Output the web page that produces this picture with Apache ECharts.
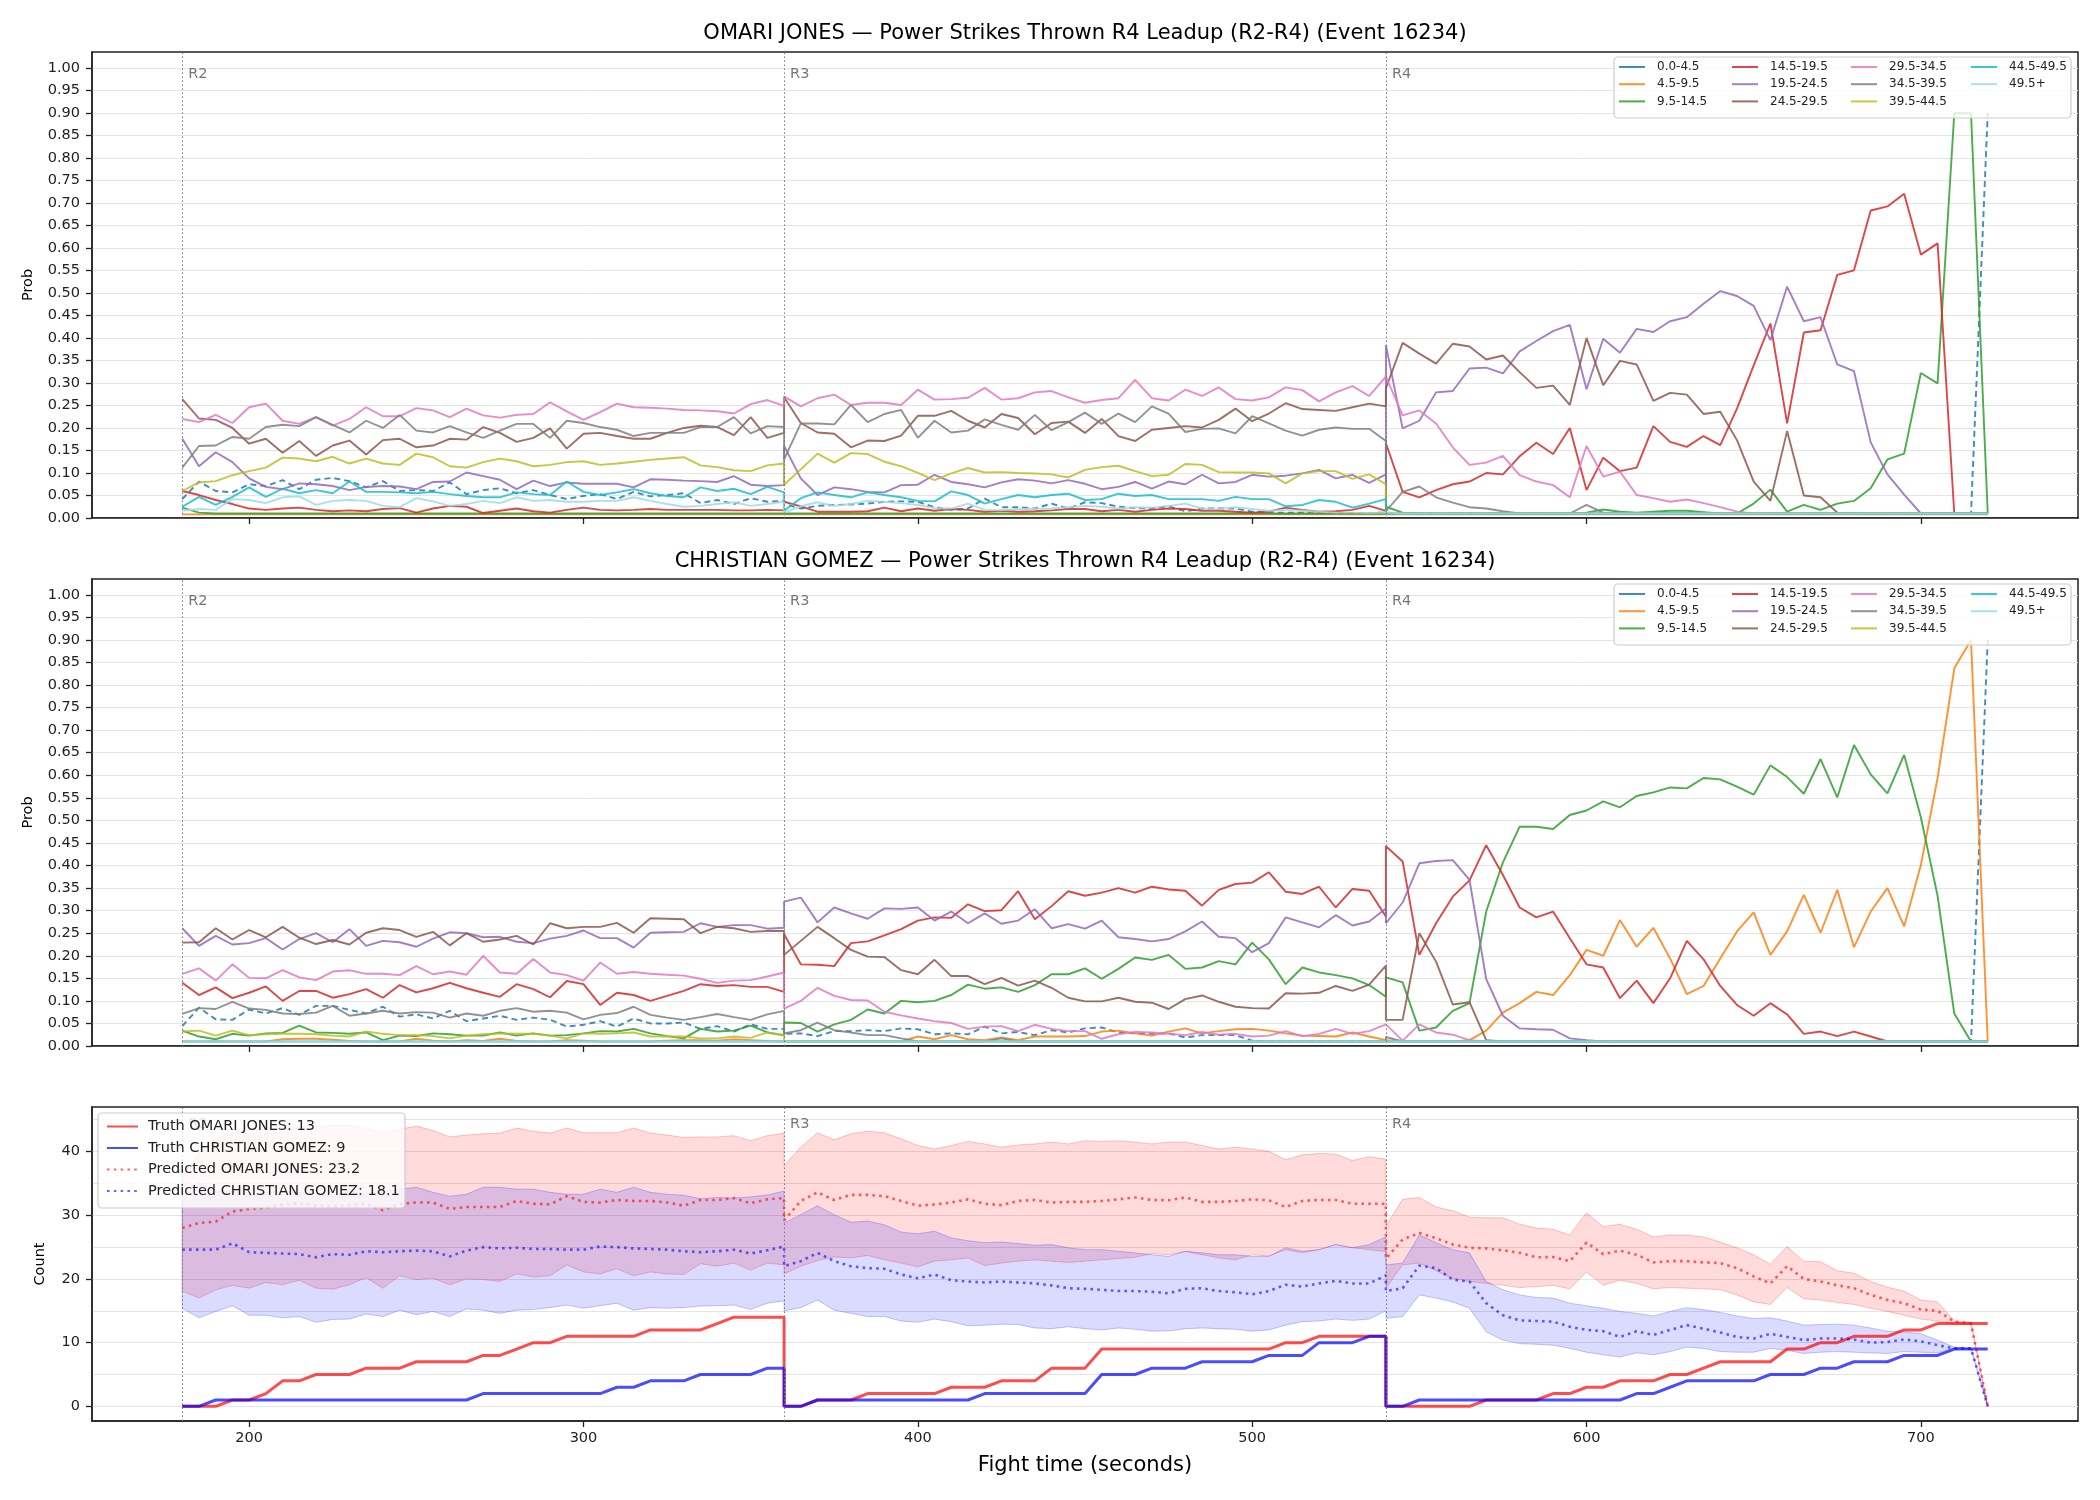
<!DOCTYPE html>
<html>
<head>
<meta charset="utf-8">
<script src="https://cdn.jsdelivr.net/npm/echarts@6/dist/echarts.min.js"></script>
<style>
  html, body { margin: 0; padding: 0; background: #fff; }
  #chart { width: 2100px; height: 1500px; }
</style>
</head>
<body>
<div id="chart"></div>
<script>
// ---- axes / categories ----
const ROUND_STARTS = [180, 360, 540];
const ROUND_LABELS = ['R2', 'R3', 'R4'];
const STEP = 5;
const PER_ROUND = 37;
const X_TICKS = [200, 300, 400, 500, 600, 700];
const PROB_TICKS = [0, 0.05, 0.1, 0.15, 0.2, 0.25, 0.3, 0.35, 0.4, 0.45, 0.5,
  0.55, 0.6, 0.65, 0.7, 0.75, 0.8, 0.85, 0.9, 0.95, 1.0];
const COUNT_TICKS = [0, 10, 20, 30, 40];
const BINS = ['0.0-4.5', '4.5-9.5', '9.5-14.5', '14.5-19.5', '19.5-24.5', '24.5-29.5',
  '29.5-34.5', '34.5-39.5', '39.5-44.5', '44.5-49.5', '49.5+'];
const BIN_COLORS = ['#1f77b4', '#ff7f0e', '#2ca02c', '#d62728', '#9467bd', '#8c564b',
  '#e377c2', '#7f7f7f', '#bcbd22', '#17becf', '#9edae5'];

// ---- OMARI JONES bin probabilities (R2 | R3 | R4, 5 s steps) ----
const omariP0 = [
  0.042,0.081,0.060,0.057,0.075,0.071,0.084,0.064,0.085,0.089,0.082,0.068,0.082,0.060,0.062,0.060,0.079,0.053,0.062,0.066,0.055,0.062,0.051,0.042,0.049,0.053,0.042,0.058,0.048,0.051,0.055,0.033,0.040,0.031,0.044,0.036,0.038,
  0.031,0.021,0.027,0.029,0.030,0.032,0.036,0.037,0.036,0.024,0.018,0.021,0.043,0.024,0.024,0.021,0.032,0.021,0.035,0.033,0.025,0.022,0.021,0.026,0.015,0.021,0.021,0.021,0.014,0.012,0.012,0.012,0.012,0.011,0.011,0.011,0.012,
  0.01,0.01,0.01,0.01,0.01,0.01,0.01,0.01,0.01,0.01,0.01,0.01,0.01,0.01,0.01,0.01,0.01,0.01,0.01,0.01,0.01,0.01,0.01,0.01,0.01,0.01,0.01,0.01,0.01,0.01,0.01,0.01,0.01,0.01,0.01,0.01,0.90];
const omariP1 = [
  0.008,0.008,0.008,0.008,0.008,0.008,0.008,0.008,0.008,0.008,0.008,0.008,0.008,0.008,0.008,0.008,0.008,0.008,0.008,0.008,0.008,0.008,0.008,0.008,0.008,0.008,0.008,0.008,0.008,0.008,0.008,0.008,0.008,0.008,0.008,0.008,0.008,
  0.008,0.008,0.008,0.008,0.008,0.008,0.008,0.008,0.008,0.008,0.008,0.008,0.008,0.008,0.008,0.008,0.008,0.008,0.008,0.008,0.008,0.008,0.008,0.008,0.008,0.008,0.008,0.008,0.008,0.008,0.008,0.008,0.008,0.008,0.008,0.008,0.008,
  0.008,0.008,0.008,0.008,0.008,0.008,0.008,0.008,0.008,0.008,0.008,0.008,0.008,0.008,0.008,0.008,0.008,0.008,0.008,0.008,0.008,0.008,0.008,0.008,0.008,0.008,0.008,0.008,0.008,0.008,0.008,0.008,0.008,0.008,0.008,0.008,0.008];
const omariP2 = [
  0.023,0.012,0.01,0.01,0.01,0.01,0.01,0.01,0.01,0.01,0.01,0.01,0.01,0.01,0.01,0.01,0.01,0.01,0.01,0.01,0.01,0.01,0.01,0.01,0.01,0.01,0.01,0.01,0.01,0.01,0.01,0.01,0.01,0.01,0.01,0.01,0.01,
  0.01,0.01,0.01,0.01,0.01,0.01,0.01,0.01,0.01,0.01,0.01,0.01,0.01,0.01,0.01,0.01,0.01,0.01,0.01,0.01,0.01,0.01,0.01,0.01,0.01,0.01,0.01,0.01,0.01,0.01,0.01,0.01,0.01,0.01,0.01,0.01,0.01,
  0.025,0.012,0.01,0.01,0.01,0.01,0.01,0.01,0.01,0.01,0.01,0.01,0.012,0.019,0.014,0.012,0.014,0.016,0.016,0.013,0.01,0.01,0.032,0.063,0.014,0.029,0.018,0.032,0.038,0.066,0.130,0.143,0.322,0.299,0.899,0.899,0.01];
const omariP3 = [
  0.060,0.051,0.040,0.031,0.021,0.018,0.021,0.023,0.018,0.015,0.017,0.015,0.020,0.022,0.012,0.021,0.027,0.025,0.011,0.016,0.021,0.015,0.012,0.018,0.023,0.018,0.017,0.018,0.020,0.018,0.018,0.018,0.018,0.017,0.017,0.018,0.017,
  0.036,0.026,0.014,0.014,0.014,0.015,0.023,0.015,0.021,0.016,0.020,0.018,0.014,0.016,0.014,0.015,0.017,0.020,0.020,0.015,0.018,0.014,0.018,0.021,0.020,0.016,0.016,0.014,0.012,0.014,0.023,0.018,0.014,0.015,0.018,0.027,0.016,
  0.166,0.058,0.046,0.062,0.075,0.081,0.100,0.097,0.137,0.167,0.142,0.200,0.062,0.134,0.104,0.112,0.204,0.169,0.158,0.182,0.162,0.243,0.339,0.432,0.210,0.412,0.417,0.540,0.550,0.683,0.692,0.720,0.585,0.610,0.01,0.01,0.01];
const omariP4 = [
  0.176,0.115,0.146,0.124,0.088,0.069,0.064,0.077,0.075,0.071,0.062,0.069,0.071,0.070,0.064,0.080,0.081,0.101,0.093,0.085,0.064,0.083,0.071,0.079,0.076,0.076,0.076,0.068,0.086,0.085,0.083,0.082,0.080,0.093,0.074,0.071,0.073,
  0.160,0.088,0.051,0.068,0.064,0.058,0.057,0.073,0.074,0.096,0.080,0.075,0.068,0.079,0.086,0.083,0.077,0.084,0.076,0.064,0.069,0.080,0.065,0.081,0.075,0.096,0.077,0.080,0.096,0.092,0.094,0.099,0.107,0.088,0.096,0.078,0.097,
  0.384,0.199,0.216,0.279,0.282,0.332,0.334,0.321,0.370,0.393,0.415,0.429,0.286,0.398,0.367,0.420,0.413,0.437,0.446,0.476,0.504,0.493,0.471,0.395,0.514,0.437,0.446,0.341,0.326,0.168,0.097,0.052,0.01,0.01,0.01,0.01,0.01];
const omariP5 = [
  0.264,0.221,0.218,0.200,0.165,0.176,0.145,0.171,0.138,0.161,0.172,0.141,0.173,0.176,0.157,0.161,0.176,0.174,0.202,0.189,0.169,0.178,0.199,0.154,0.187,0.189,0.182,0.176,0.176,0.189,0.200,0.205,0.202,0.184,0.224,0.178,0.189,
  0.268,0.211,0.190,0.187,0.157,0.172,0.171,0.183,0.227,0.227,0.238,0.216,0.201,0.231,0.222,0.186,0.211,0.214,0.189,0.220,0.182,0.171,0.196,0.200,0.204,0.201,0.218,0.243,0.215,0.232,0.255,0.242,0.240,0.238,0.246,0.254,0.248,
  0.288,0.389,0.365,0.343,0.387,0.381,0.352,0.361,0.324,0.289,0.294,0.251,0.400,0.295,0.349,0.341,0.260,0.278,0.274,0.231,0.236,0.173,0.081,0.038,0.193,0.050,0.046,0.012,0.01,0.01,0.01,0.01,0.01,0.01,0.01,0.01,0.01];
const omariP6 = [
  0.220,0.213,0.229,0.211,0.246,0.254,0.216,0.209,0.224,0.205,0.220,0.246,0.226,0.226,0.244,0.239,0.224,0.243,0.228,0.223,0.229,0.231,0.257,0.237,0.218,0.235,0.254,0.246,0.245,0.243,0.240,0.239,0.237,0.232,0.253,0.262,0.249,
  0.270,0.248,0.266,0.274,0.251,0.256,0.256,0.251,0.285,0.263,0.264,0.267,0.289,0.263,0.266,0.279,0.282,0.268,0.256,0.262,0.266,0.307,0.266,0.261,0.285,0.271,0.290,0.264,0.261,0.268,0.290,0.284,0.259,0.279,0.293,0.271,0.314,
  0.315,0.228,0.239,0.210,0.157,0.118,0.123,0.138,0.095,0.081,0.073,0.046,0.160,0.092,0.103,0.051,0.044,0.036,0.041,0.033,0.024,0.014,0.01,0.01,0.01,0.01,0.01,0.01,0.01,0.01,0.01,0.01,0.01,0.01,0.01,0.01,0.01];
const omariP7 = [
  0.112,0.160,0.161,0.180,0.176,0.202,0.207,0.204,0.224,0.207,0.190,0.216,0.200,0.229,0.194,0.190,0.204,0.190,0.178,0.194,0.209,0.209,0.178,0.216,0.211,0.202,0.196,0.182,0.189,0.189,0.189,0.202,0.202,0.224,0.188,0.204,0.202,
  0.130,0.210,0.210,0.208,0.251,0.213,0.231,0.240,0.178,0.216,0.190,0.194,0.219,0.207,0.196,0.229,0.195,0.213,0.234,0.209,0.232,0.213,0.248,0.232,0.191,0.198,0.199,0.188,0.226,0.210,0.194,0.183,0.196,0.201,0.198,0.198,0.171,
  0.015,0.058,0.070,0.046,0.034,0.024,0.021,0.015,0.01,0.01,0.01,0.01,0.029,0.012,0.01,0.01,0.01,0.01,0.01,0.01,0.01,0.01,0.01,0.01,0.01,0.01,0.01,0.01,0.01,0.01,0.01,0.01,0.01,0.01,0.01,0.01,0.01];
const omariP8 = [
  0.060,0.079,0.082,0.095,0.104,0.112,0.134,0.132,0.126,0.136,0.121,0.132,0.121,0.118,0.143,0.135,0.115,0.112,0.124,0.132,0.126,0.115,0.118,0.124,0.126,0.118,0.121,0.125,0.129,0.132,0.135,0.117,0.113,0.106,0.104,0.117,0.121,
  0.074,0.108,0.143,0.123,0.144,0.142,0.125,0.115,0.100,0.084,0.099,0.111,0.101,0.102,0.100,0.099,0.097,0.090,0.107,0.113,0.116,0.104,0.093,0.096,0.120,0.118,0.102,0.101,0.101,0.099,0.077,0.099,0.104,0.104,0.087,0.097,0.075,
  0.01,0.01,0.01,0.01,0.01,0.01,0.01,0.01,0.01,0.01,0.01,0.01,0.01,0.01,0.01,0.01,0.01,0.01,0.01,0.01,0.01,0.01,0.01,0.01,0.01,0.01,0.01,0.01,0.01,0.01,0.01,0.01,0.01,0.01,0.01,0.01,0.01];
const omariP9 = [
  0.025,0.047,0.029,0.047,0.068,0.047,0.065,0.055,0.062,0.055,0.081,0.058,0.058,0.057,0.055,0.058,0.053,0.049,0.046,0.046,0.057,0.053,0.051,0.081,0.058,0.051,0.057,0.064,0.055,0.049,0.046,0.068,0.060,0.065,0.053,0.069,0.057,
  0.016,0.044,0.057,0.051,0.046,0.057,0.051,0.046,0.038,0.037,0.059,0.051,0.032,0.042,0.051,0.046,0.051,0.054,0.040,0.042,0.054,0.049,0.051,0.042,0.042,0.042,0.038,0.047,0.042,0.042,0.026,0.029,0.040,0.036,0.023,0.032,0.042,
  0.01,0.01,0.01,0.01,0.01,0.01,0.01,0.01,0.01,0.01,0.01,0.01,0.01,0.01,0.01,0.01,0.01,0.01,0.01,0.01,0.01,0.01,0.01,0.01,0.01,0.01,0.01,0.01,0.01,0.01,0.01,0.01,0.01,0.01,0.01,0.01,0.01];
const omariP10 = [
  0.016,0.020,0.018,0.042,0.040,0.033,0.046,0.048,0.029,0.038,0.040,0.038,0.027,0.024,0.044,0.037,0.027,0.031,0.038,0.033,0.046,0.038,0.040,0.036,0.036,0.038,0.038,0.046,0.038,0.031,0.025,0.027,0.031,0.035,0.027,0.031,0.036,
  0.012,0.026,0.035,0.027,0.031,0.038,0.036,0.033,0.029,0.022,0.021,0.032,0.018,0.017,0.020,0.020,0.021,0.024,0.027,0.025,0.021,0.024,0.023,0.027,0.032,0.021,0.020,0.024,0.020,0.016,0.018,0.016,0.014,0.012,0.012,0.011,0.012,
  0.01,0.01,0.01,0.01,0.01,0.01,0.01,0.01,0.01,0.01,0.01,0.01,0.01,0.01,0.01,0.01,0.01,0.01,0.01,0.01,0.01,0.01,0.01,0.01,0.01,0.01,0.01,0.01,0.01,0.01,0.01,0.01,0.01,0.01,0.01,0.01,0.01];

// ---- CHRISTIAN GOMEZ bin probabilities ----
const gomezP0 = [
  0.044,0.085,0.059,0.058,0.081,0.072,0.084,0.069,0.089,0.089,0.080,0.072,0.087,0.065,0.070,0.061,0.078,0.055,0.061,0.067,0.058,0.063,0.058,0.043,0.047,0.055,0.043,0.061,0.050,0.050,0.052,0.038,0.044,0.032,0.048,0.038,0.038,
  0.027,0.028,0.022,0.033,0.033,0.035,0.033,0.039,0.037,0.026,0.028,0.026,0.043,0.028,0.031,0.024,0.035,0.030,0.039,0.041,0.030,0.028,0.027,0.028,0.019,0.024,0.024,0.024,0.012,0.010,0.01,0.01,0.01,0.01,0.01,0.01,0.01,
  0.01,0.01,0.01,0.01,0.01,0.01,0.01,0.01,0.01,0.01,0.01,0.01,0.01,0.01,0.01,0.01,0.01,0.01,0.01,0.01,0.01,0.01,0.01,0.01,0.01,0.01,0.01,0.01,0.01,0.01,0.01,0.01,0.01,0.01,0.01,0.01,0.90];
const gomezP1 = [
  0.01,0.01,0.01,0.01,0.01,0.01,0.015,0.016,0.016,0.014,0.011,0.01,0.01,0.01,0.016,0.012,0.01,0.013,0.011,0.016,0.011,0.01,0.01,0.013,0.012,0.01,0.01,0.01,0.01,0.012,0.013,0.013,0.012,0.015,0.013,0.011,0.01,
  0.01,0.01,0.01,0.01,0.01,0.01,0.01,0.01,0.021,0.015,0.024,0.015,0.013,0.019,0.013,0.021,0.021,0.021,0.022,0.032,0.034,0.028,0.023,0.032,0.039,0.028,0.033,0.037,0.038,0.034,0.028,0.023,0.022,0.021,0.030,0.021,0.013,
  0.013,0.01,0.01,0.01,0.01,0.013,0.034,0.074,0.095,0.120,0.113,0.157,0.213,0.200,0.279,0.220,0.262,0.194,0.115,0.133,0.194,0.254,0.296,0.202,0.254,0.335,0.251,0.346,0.219,0.298,0.350,0.265,0.401,0.594,0.837,0.900,0.01];
const gomezP2 = [
  0.034,0.021,0.015,0.027,0.023,0.028,0.029,0.045,0.030,0.029,0.027,0.030,0.013,0.023,0.022,0.028,0.026,0.023,0.023,0.030,0.023,0.028,0.023,0.024,0.028,0.033,0.032,0.038,0.028,0.022,0.017,0.038,0.032,0.034,0.045,0.030,0.024,
  0.052,0.051,0.032,0.048,0.058,0.081,0.072,0.100,0.097,0.100,0.113,0.136,0.127,0.130,0.120,0.135,0.159,0.159,0.172,0.149,0.171,0.196,0.191,0.202,0.171,0.174,0.188,0.181,0.229,0.192,0.137,0.174,0.163,0.157,0.150,0.135,0.109,
  0.152,0.141,0.034,0.041,0.078,0.095,0.298,0.407,0.486,0.486,0.481,0.512,0.522,0.542,0.529,0.554,0.562,0.573,0.571,0.594,0.591,0.575,0.557,0.622,0.596,0.559,0.636,0.551,0.667,0.602,0.560,0.645,0.507,0.333,0.072,0.01,0.01];
const gomezP3 = [
  0.140,0.113,0.130,0.106,0.118,0.132,0.100,0.122,0.122,0.107,0.115,0.126,0.107,0.135,0.119,0.128,0.140,0.128,0.118,0.109,0.137,0.126,0.108,0.144,0.137,0.091,0.118,0.113,0.100,0.111,0.122,0.137,0.133,0.135,0.131,0.131,0.120,
  0.248,0.181,0.180,0.177,0.228,0.232,0.245,0.259,0.278,0.285,0.284,0.314,0.299,0.301,0.343,0.281,0.310,0.343,0.333,0.340,0.350,0.340,0.353,0.347,0.344,0.311,0.346,0.359,0.362,0.385,0.342,0.337,0.353,0.307,0.348,0.344,0.287,
  0.443,0.409,0.202,0.272,0.331,0.367,0.445,0.379,0.307,0.285,0.298,0.239,0.181,0.174,0.106,0.145,0.095,0.150,0.233,0.192,0.133,0.091,0.067,0.095,0.070,0.027,0.032,0.022,0.032,0.021,0.01,0.01,0.01,0.01,0.01,0.01,0.01];
const gomezP4 = [
  0.261,0.222,0.244,0.225,0.228,0.239,0.214,0.237,0.250,0.230,0.259,0.222,0.233,0.230,0.220,0.238,0.252,0.250,0.241,0.242,0.231,0.228,0.238,0.244,0.256,0.239,0.239,0.218,0.251,0.252,0.253,0.272,0.264,0.268,0.268,0.260,0.262,
  0.320,0.329,0.274,0.307,0.294,0.282,0.305,0.304,0.307,0.278,0.298,0.272,0.294,0.271,0.278,0.303,0.261,0.270,0.260,0.278,0.241,0.237,0.232,0.237,0.254,0.276,0.242,0.239,0.208,0.228,0.285,0.274,0.263,0.290,0.267,0.276,0.305,
  0.272,0.318,0.405,0.410,0.412,0.368,0.148,0.067,0.039,0.037,0.036,0.017,0.013,0.01,0.01,0.01,0.01,0.01,0.01,0.01,0.01,0.01,0.01,0.01,0.01,0.01,0.01,0.01,0.01,0.01,0.01,0.01,0.01,0.01,0.01,0.01,0.01];
const gomezP5 = [
  0.229,0.230,0.261,0.236,0.257,0.241,0.264,0.240,0.226,0.235,0.225,0.251,0.261,0.257,0.242,0.253,0.223,0.250,0.231,0.236,0.244,0.225,0.272,0.261,0.264,0.264,0.273,0.251,0.283,0.282,0.281,0.250,0.264,0.261,0.253,0.255,0.255,
  0.202,0.233,0.264,0.239,0.213,0.198,0.197,0.168,0.159,0.191,0.155,0.155,0.137,0.151,0.134,0.145,0.129,0.107,0.099,0.099,0.107,0.098,0.096,0.082,0.104,0.112,0.098,0.087,0.084,0.083,0.117,0.116,0.118,0.133,0.122,0.136,0.178,
  0.058,0.058,0.250,0.187,0.092,0.097,0.013,0.01,0.01,0.01,0.01,0.01,0.01,0.01,0.01,0.01,0.01,0.01,0.01,0.01,0.01,0.01,0.01,0.01,0.01,0.01,0.01,0.01,0.01,0.01,0.01,0.01,0.01,0.01,0.01,0.01,0.01];
const gomezP6 = [
  0.160,0.172,0.145,0.181,0.151,0.150,0.168,0.152,0.146,0.165,0.168,0.160,0.160,0.157,0.177,0.159,0.165,0.158,0.200,0.163,0.160,0.193,0.163,0.157,0.145,0.185,0.160,0.164,0.160,0.158,0.156,0.149,0.140,0.145,0.146,0.154,0.163,
  0.083,0.100,0.129,0.111,0.102,0.101,0.076,0.068,0.061,0.055,0.051,0.038,0.043,0.044,0.033,0.047,0.038,0.033,0.033,0.016,0.026,0.031,0.030,0.027,0.024,0.031,0.025,0.027,0.021,0.023,0.033,0.022,0.027,0.038,0.027,0.033,0.048,
  0.048,0.012,0.048,0.030,0.025,0.013,0.01,0.01,0.01,0.01,0.01,0.01,0.01,0.01,0.01,0.01,0.01,0.01,0.01,0.01,0.01,0.01,0.01,0.01,0.01,0.01,0.01,0.01,0.01,0.01,0.01,0.01,0.01,0.01,0.01,0.01,0.01];
const gomezP7 = [
  0.071,0.084,0.082,0.098,0.083,0.080,0.072,0.071,0.074,0.089,0.067,0.072,0.078,0.072,0.075,0.074,0.063,0.072,0.067,0.078,0.084,0.076,0.078,0.074,0.059,0.069,0.073,0.087,0.069,0.063,0.058,0.064,0.071,0.064,0.058,0.070,0.078,
  0.028,0.035,0.052,0.035,0.030,0.024,0.024,0.017,0.01,0.01,0.01,0.01,0.01,0.017,0.01,0.01,0.01,0.01,0.01,0.01,0.01,0.01,0.01,0.01,0.01,0.01,0.01,0.01,0.01,0.01,0.01,0.01,0.01,0.01,0.01,0.01,0.01,
  0.02,0.01,0.01,0.01,0.01,0.01,0.01,0.01,0.01,0.01,0.01,0.01,0.01,0.01,0.01,0.01,0.01,0.01,0.01,0.01,0.01,0.01,0.01,0.01,0.01,0.01,0.01,0.01,0.01,0.01,0.01,0.01,0.01,0.01,0.01,0.01,0.01];
const gomezP8 = [
  0.032,0.034,0.023,0.034,0.024,0.026,0.027,0.027,0.026,0.023,0.021,0.032,0.027,0.024,0.024,0.022,0.017,0.023,0.026,0.028,0.027,0.027,0.023,0.017,0.028,0.027,0.028,0.030,0.021,0.021,0.021,0.017,0.017,0.021,0.018,0.030,0.023,
  0.01,0.01,0.01,0.01,0.01,0.01,0.01,0.01,0.01,0.01,0.01,0.01,0.01,0.01,0.01,0.01,0.01,0.01,0.01,0.01,0.01,0.01,0.01,0.01,0.01,0.01,0.01,0.01,0.01,0.01,0.01,0.01,0.01,0.01,0.01,0.01,0.01,
  0.01,0.01,0.01,0.01,0.01,0.01,0.01,0.01,0.01,0.01,0.01,0.01,0.01,0.01,0.01,0.01,0.01,0.01,0.01,0.01,0.01,0.01,0.01,0.01,0.01,0.01,0.01,0.01,0.01,0.01,0.01,0.01,0.01,0.01,0.01,0.01,0.01];
const gomezP9 = [
  0.01,0.01,0.01,0.01,0.01,0.01,0.01,0.01,0.01,0.01,0.01,0.01,0.01,0.01,0.01,0.01,0.01,0.01,0.01,0.01,0.01,0.01,0.01,0.01,0.01,0.01,0.01,0.01,0.01,0.01,0.01,0.01,0.01,0.01,0.01,0.01,0.01,
  0.01,0.01,0.01,0.01,0.01,0.01,0.01,0.01,0.01,0.01,0.01,0.01,0.01,0.01,0.01,0.01,0.01,0.01,0.01,0.01,0.01,0.01,0.01,0.01,0.01,0.01,0.01,0.01,0.01,0.01,0.01,0.01,0.01,0.01,0.01,0.01,0.01,
  0.01,0.01,0.01,0.01,0.01,0.01,0.01,0.01,0.01,0.01,0.01,0.01,0.01,0.01,0.01,0.01,0.01,0.01,0.01,0.01,0.01,0.01,0.01,0.01,0.01,0.01,0.01,0.01,0.01,0.01,0.01,0.01,0.01,0.01,0.01,0.01,0.01];
const gomezP10 = [
  0.01,0.01,0.01,0.01,0.01,0.01,0.01,0.01,0.01,0.01,0.01,0.01,0.01,0.01,0.01,0.01,0.01,0.01,0.01,0.01,0.01,0.01,0.01,0.01,0.01,0.01,0.01,0.01,0.01,0.01,0.01,0.01,0.01,0.01,0.01,0.01,0.01,
  0.01,0.01,0.01,0.01,0.01,0.01,0.01,0.01,0.01,0.01,0.01,0.01,0.01,0.01,0.01,0.01,0.01,0.01,0.01,0.01,0.01,0.01,0.01,0.01,0.01,0.01,0.01,0.01,0.01,0.01,0.01,0.01,0.01,0.01,0.01,0.01,0.01,
  0.01,0.01,0.01,0.01,0.01,0.01,0.01,0.01,0.01,0.01,0.01,0.01,0.01,0.01,0.01,0.01,0.01,0.01,0.01,0.01,0.01,0.01,0.01,0.01,0.01,0.01,0.01,0.01,0.01,0.01,0.01,0.01,0.01,0.01,0.01,0.01,0.01];

// ---- counts panel ----
const truthOmari = [
  0,0,0,1,1,2,4,4,5,5,5,6,6,6,7,7,7,7,8,8,9,10,10,11,11,11,11,11,12,12,12,12,13,14,14,14,14,
  0,0,1,1,1,2,2,2,2,2,3,3,3,4,4,4,6,6,6,9,9,9,9,9,9,9,9,9,9,9,10,10,11,11,11,11,11,
  0,0,0,0,0,0,1,1,1,1,2,2,3,3,4,4,4,5,5,6,7,7,7,7,9,9,10,10,11,11,11,12,12,13,13,13,13];
const truthGomez = [
  0,0,1,1,1,1,1,1,1,1,1,1,1,1,1,1,1,1,2,2,2,2,2,2,2,2,3,3,4,4,4,5,5,5,5,6,6,
  0,0,1,1,1,1,1,1,1,1,1,1,2,2,2,2,2,2,2,5,5,5,6,6,6,7,7,7,7,8,8,8,10,10,10,11,11,
  0,0,1,1,1,1,1,1,1,1,1,1,1,1,1,2,2,3,4,4,4,4,4,5,5,5,6,6,7,7,7,8,8,8,9,9,9];
const predOmari = [
  28.0,28.8,29.0,30.6,31.0,31.2,31.7,31.9,31.5,31.4,31.6,31.8,30.8,31.8,32.0,32.0,31.0,31.3,31.3,31.3,32.25,31.8,31.7,33.0,32.1,32.0,32.4,32.25,32.25,32.0,31.5,32.4,32.4,32.7,31.9,32.5,32.7,
  29.2,32.25,33.6,32.4,33.2,33.2,33.0,32.25,31.5,31.7,32.0,32.5,31.8,31.6,32.25,32.4,32.0,32.1,32.1,32.25,32.5,32.8,32.4,32.35,32.8,32.1,32.1,32.25,32.5,32.35,31.3,32.25,32.4,32.4,31.8,31.8,31.8,
  23.2,26.2,27.2,26.4,25.4,24.9,24.8,24.5,24.1,23.4,23.45,22.8,25.7,23.9,24.45,23.8,22.6,22.8,22.8,22.6,22.5,21.7,20.4,19.3,22.0,20.0,19.6,19.0,18.55,17.5,16.7,16.2,15.2,15.0,13.3,13.0,0];
const predGomez = [
  24.6,24.6,24.6,25.6,24.2,24.1,24.0,23.9,23.4,23.9,23.8,24.35,24.2,24.35,24.45,24.35,23.55,24.45,25.0,24.8,24.9,24.7,24.7,24.6,24.6,25.1,25.0,24.8,24.7,24.6,24.35,24.2,24.35,24.6,24.0,24.5,25.1,
  22.0,22.8,24.1,22.8,22.0,21.7,21.6,20.7,20.1,20.7,19.8,19.6,19.45,19.6,19.45,19.3,19.0,18.55,18.45,18.3,18.1,18.1,18.0,17.75,18.45,18.55,18.1,17.9,17.6,18.1,19.1,18.8,19.3,19.7,19.3,19.3,20.55,
  18.1,18.55,22.1,21.7,19.9,19.6,16.2,14.3,13.5,13.4,13.3,12.5,12.0,11.8,10.9,11.8,11.2,12.0,12.75,12.2,11.6,10.9,10.65,11.4,10.9,10.4,10.65,10.65,10.5,10.0,10.1,10.5,10.2,9.6,9.1,9.1,0];
const bandOmariHi = [
  36,40,42,43,43.5,43.5,43.8,43.85,43.9,44.1,44.1,43.7,42.95,43.5,44.0,43.3,42.3,42.6,42.8,42.9,43.7,43.2,42.9,43.7,42.95,42.95,42.95,43.7,42.9,42.6,42.2,42.3,42.3,42.5,41.7,42.5,42.9,
  37.8,40.7,42.95,41.85,42.8,43.2,42.95,42.0,40.95,40.4,40.95,41.6,41.2,40.7,41.05,41.2,41.5,41.2,41.7,41.6,41.7,41.5,41.2,41.5,41.5,40.95,40.4,40.7,40.4,40.05,38.7,39.5,39.7,39.6,38.6,39.2,38.8,
  28.3,32.5,32.8,31.3,30.7,29.7,29.6,29.6,28.6,28.0,27.8,26.9,30.4,28.2,28.6,27.8,26.6,26.9,26.9,26.6,25.8,24.9,23.8,22.3,25.1,22.8,22.7,21.3,20.9,19.6,18.7,18.1,16.7,16.4,13.4,13.2,0];
const bandOmariLo = [
  18.1,17.0,18.3,19.0,18.55,19.45,19.1,19.8,18.55,18.4,19.1,20.2,18.55,20.5,19.9,20.1,19.1,20.0,19.9,19.6,20.8,20.3,20.5,22.2,21.1,20.8,21.6,20.5,21.1,20.8,20.7,22.4,22.0,22.5,21.4,22.5,22.2,
  20.8,22.0,22.9,23.45,23.3,23.7,23.0,22.5,21.9,22.8,23.0,23.3,22.1,22.5,22.8,23.0,22.8,22.6,22.8,23.0,23.2,23.4,24.0,23.8,24.3,23.8,23.3,23.0,23.8,23.6,24.6,24.1,24.6,25.4,24.9,24.6,24.3,
  18.55,22.2,22.5,21.3,20.1,19.6,19.3,19.0,18.65,18.8,19.0,18.45,21.1,19.0,19.8,19.3,18.45,18.65,18.55,18.45,18.3,17.5,16.4,16.0,18.65,16.9,16.7,16.3,16.0,15.4,14.9,14.3,13.7,13.4,12.9,12.9,0];
const bandGomezHi = [
  32.25,35.15,33.8,33.8,33.0,33.6,33.8,33.6,33.3,33.0,33.8,33.4,33.8,34.1,34.4,33.6,33.0,33.3,34.4,34.4,34.1,34.1,33.6,33.3,33.3,34.1,33.6,34.4,33.6,33.3,33.15,32.6,32.8,32.7,32.9,33.2,33.8,
  28.8,30.1,31.5,30.1,28.9,29.1,28.5,27.35,27.1,27.5,26.45,26.0,25.7,25.8,25.55,25.3,25.4,24.9,24.6,24.6,24.35,24.1,23.8,23.55,24.35,24.1,23.8,23.8,23.55,23.55,24.9,24.35,24.6,25.4,24.9,25.4,26.6,
  22.2,22.5,26.9,25.7,24.6,24.1,19.6,18.3,17.5,17.1,17.0,16.2,15.8,15.4,14.9,14.6,14.2,14.9,15.5,15.2,14.75,14.2,13.8,13.9,13.4,12.75,12.85,12.9,12.75,12.3,11.8,11.7,11.4,10.4,9.3,9.1,0];
const bandGomezLo = [
  15.4,13.9,14.9,15.8,14.3,14.3,13.9,14.1,13.2,13.65,13.7,14.5,14.1,15.1,14.4,14.9,14.1,15.3,15.1,14.6,15.1,15.2,15.5,15.9,15.4,15.8,16.2,15.1,15.5,15.4,15.5,15.75,15.8,15.9,15.2,16.2,16.55,
  15.0,15.5,16.7,15.1,14.6,14.1,14.1,13.4,13.2,13.7,13.3,12.65,12.75,12.9,12.85,12.3,12.2,12.5,12.2,12.0,12.3,12.1,11.8,11.85,12.2,12.3,12.2,12.1,11.8,12.0,12.75,13.3,13.4,13.7,13.5,13.7,15.0,
  13.8,14.1,17.5,17.0,16.4,15.4,11.7,10.4,9.85,9.75,9.6,9.1,8.5,8.1,7.75,8.4,8.1,8.6,9.3,9.1,8.6,8.5,8.5,9.1,8.8,8.3,8.5,8.6,8.5,8.4,8.3,8.6,8.5,8.4,9.1,9.1,0];

const OMARI = [omariP0, omariP1, omariP2, omariP3, omariP4, omariP5, omariP6, omariP7, omariP8, omariP9, omariP10];
const GOMEZ = [gomezP0, gomezP1, gomezP2, gomezP3, gomezP4, gomezP5, gomezP6, gomezP7, gomezP8, gomezP9, gomezP10];

// time stamps: each round sampled every 5 s, boundaries repeated
const times = [];
ROUND_STARTS.forEach(s => { for (let k = 0; k < PER_ROUND; k++) times.push(s + k * STEP); });

const allArrays = [...OMARI, ...GOMEZ, truthOmari, truthGomez, predOmari, predGomez,
  bandOmariHi, bandOmariLo, bandGomezHi, bandGomezLo];
allArrays.forEach((a, i) => { if (a.length !== times.length) throw new Error('array ' + i + ' has ' + a.length); });

const FONT = 'DejaVu Sans';
const INK = '#222';
const pts = vals => vals.map((v, i) => [times[i], v]);

const GRIDS = [
  { left: 92, top: 52, width: 1986, height: 466 },
  { left: 92, top: 579, width: 1986, height: 467 },
  { left: 92, top: 1107, width: 1986, height: 314 }
];

function xAxisFor(g) {
  return {
    gridIndex: g, type: 'value', min: 153, max: 747,
    axisLine: { show: true, onZero: false, lineStyle: { color: INK, width: 1.5 } },
    axisTick: { show: true, length: 6, customValues: X_TICKS, lineStyle: { color: INK, width: 1.3 } },
    axisLabel: { show: g === 2, customValues: X_TICKS, fontSize: 14.5, color: INK, fontFamily: FONT, margin: 10 },
    splitLine: { show: false },
    name: g === 2 ? 'Fight time (seconds)' : '', nameLocation: 'middle', nameGap: 34,
    nameTextStyle: { fontSize: 21, color: '#000', fontFamily: FONT }
  };
}

function probAxis(g) {
  return {
    gridIndex: g, type: 'value', min: 0, max: 1.035, interval: 0.05,
    name: 'Prob', nameLocation: 'middle', nameGap: 56,
    nameTextStyle: { fontSize: 14.5, color: '#000', fontFamily: FONT },
    axisLine: { show: true, lineStyle: { color: INK, width: 1.5 } },
    axisTick: { show: true, length: 6, customValues: PROB_TICKS, lineStyle: { color: INK, width: 1.3 } },
    axisLabel: { customValues: PROB_TICKS, formatter: v => v.toFixed(2), fontSize: 14.5, color: INK, fontFamily: FONT, margin: 12 },
    splitLine: { show: true, lineStyle: { color: '#e4e4e4', width: 1 } }
  };
}

function roundMarks(g, yPos) {
  return {
    type: 'scatter', xAxisIndex: g, yAxisIndex: g, silent: true, z: 3,
    symbolSize: 0, itemStyle: { color: 'rgba(0,0,0,0)' },
    data: ROUND_STARTS.map((x, i) => ({ value: [x, yPos], name: ROUND_LABELS[i] })),
    label: { show: true, position: 'right', distance: 6, formatter: p => p.name, color: '#555', fontSize: 14.5, fontFamily: FONT },
    markLine: {
      silent: true, symbol: ['none', 'none'], label: { show: false },
      lineStyle: { color: '#777', type: [1.5, 2.5], width: 1 },
      data: ROUND_STARTS.map(x => ({ xAxis: x }))
    }
  };
}

const series = [];
[OMARI, GOMEZ].forEach((fighter, g) => {
  fighter.forEach((vals, k) => {
    series.push({
      name: BINS[k], type: 'line', xAxisIndex: g, yAxisIndex: g, data: pts(vals),
      symbol: 'none', showSymbol: false, silent: true, z: 2,
      itemStyle: { color: BIN_COLORS[k] },
      lineStyle: { color: BIN_COLORS[k], width: 1.9, opacity: 0.85, type: k === 0 ? [6, 4] : 'solid' }
    });
  });
  series.push(roundMarks(g, 0.985));
});

// uncertainty band: one polygon between lower and upper edges, mapped with the axis scales
function band(lo, hi, rgb) {
  return {
    type: 'custom', xAxisIndex: 2, yAxisIndex: 2, silent: true, z: 1, clip: true,
    data: [[times[0], lo[0]]],
    renderItem: (params, api) => {
      const upper = hi.map((v, i) => api.coord([times[i], v]));
      const lower = lo.map((v, i) => api.coord([times[i], v])).reverse();
      return {
        type: 'polygon',
        shape: { points: upper.concat(lower) },
        style: { fill: `rgba(${rgb},0.14)`, stroke: `rgba(${rgb},0.22)`, lineWidth: 1 }
      };
    }
  };
}
series.push(band(bandOmariLo, bandOmariHi, '255,0,0'));
series.push(band(bandGomezLo, bandGomezHi, '0,0,255'));

const LEGEND_NAMES = ['Truth OMARI JONES: 13', 'Truth CHRISTIAN GOMEZ: 9', 'Predicted OMARI JONES: 23.2', 'Predicted CHRISTIAN GOMEZ: 18.1'];
series.push(
  { name: LEGEND_NAMES[0], type: 'line', xAxisIndex: 2, yAxisIndex: 2, data: pts(truthOmari), symbol: 'none', silent: true, z: 2,
    itemStyle: { color: 'rgba(255,0,0,0.7)' }, lineStyle: { color: 'rgba(255,0,0,0.7)', width: 3 } },
  { name: LEGEND_NAMES[1], type: 'line', xAxisIndex: 2, yAxisIndex: 2, data: pts(truthGomez), symbol: 'none', silent: true, z: 2,
    itemStyle: { color: 'rgba(0,0,255,0.7)' }, lineStyle: { color: 'rgba(0,0,255,0.7)', width: 3 } },
  { name: LEGEND_NAMES[2], type: 'line', xAxisIndex: 2, yAxisIndex: 2, data: pts(predOmari), symbol: 'none', silent: true, z: 2,
    itemStyle: { color: 'rgba(255,0,0,0.6)' }, lineStyle: { color: 'rgba(255,0,0,0.6)', width: 2.6, type: [2.6, 4.2] } },
  { name: LEGEND_NAMES[3], type: 'line', xAxisIndex: 2, yAxisIndex: 2, data: pts(predGomez), symbol: 'none', silent: true, z: 2,
    itemStyle: { color: 'rgba(0,0,255,0.6)' }, lineStyle: { color: 'rgba(0,0,255,0.6)', width: 2.6, type: [2.6, 4.2] } }
);
series.push(roundMarks(2, 44.3));

// legends: four columns per probability panel
const COL_LEFT = [1618, 1731, 1850, 1970];
const legends = [];
[61, 588].forEach(top => {
  for (let c = 0; c < 4; c++) {
    legends.push({
      orient: 'vertical', left: COL_LEFT[c], top: top, padding: 0, z: 12,
      itemWidth: 26, itemHeight: 14, itemGap: 5.2,
      data: BINS.slice(c * 3, c * 3 + 3),
      itemStyle: { opacity: 0 },
      lineStyle: { type: 'solid' },
      textStyle: { fontSize: 12, fontFamily: FONT, color: INK, padding: [0, 0, 0, 7] },
      selectedMode: false
    });
  }
});
legends.push({
  orient: 'vertical', left: 106, top: 1119, padding: 0, z: 12,
  itemWidth: 31, itemHeight: 16, itemGap: 6.5,
  data: LEGEND_NAMES,
  itemStyle: { opacity: 0 },
  textStyle: { fontSize: 14.5, fontFamily: FONT, color: INK, padding: [0, 0, 0, 5] },
  selectedMode: false
});

const frame = (x, y, w, h) => ({
  type: 'rect', z: 11, silent: true,
  shape: { x: x, y: y, width: w, height: h, r: 4 },
  style: { fill: 'rgba(255,255,255,0.8)', stroke: '#cccccc', lineWidth: 1.2 }
});

const TITLE_STYLE = { fontSize: 21, fontWeight: 'normal', fontFamily: FONT, color: '#000' };
const option = {
  animation: false,
  backgroundColor: '#ffffff',
  textStyle: { fontFamily: FONT },
  title: [
    { text: 'OMARI JONES — Power Strikes Thrown R4 Leadup (R2-R4) (Event 16234)', left: 1085, top: 23, textAlign: 'center', padding: 0, textStyle: TITLE_STYLE },
    { text: 'CHRISTIAN GOMEZ — Power Strikes Thrown R4 Leadup (R2-R4) (Event 16234)', left: 1085, top: 551, textAlign: 'center', padding: 0, textStyle: TITLE_STYLE }
  ],
  grid: GRIDS.map(g => Object.assign({ show: true, borderColor: INK, borderWidth: 1.5, backgroundColor: 'transparent', containLabel: false }, g)),
  xAxis: [xAxisFor(0), xAxisFor(1), xAxisFor(2)],
  yAxis: [
    probAxis(0),
    probAxis(1),
    {
      gridIndex: 2, type: 'value', min: -2.3, max: 47,
      name: 'Count', nameLocation: 'middle', nameGap: 44,
      nameTextStyle: { fontSize: 14.5, color: '#000', fontFamily: FONT },
      axisLine: { show: true, lineStyle: { color: INK, width: 1.5 } },
      axisTick: { show: true, length: 6, customValues: COUNT_TICKS, lineStyle: { color: INK, width: 1.3 } },
      axisLabel: { customValues: COUNT_TICKS, fontSize: 14.5, color: INK, fontFamily: FONT, margin: 12 },
      splitLine: { show: true, lineStyle: { color: '#e4e4e4', width: 1 } },
      minorTick: { show: false, splitNumber: 2 },
      minorSplitLine: { show: true, lineStyle: { color: '#e4e4e4', width: 1 } }
    }
  ],
  legend: legends,
  graphic: { elements: [frame(1614, 57, 457, 61), frame(1614, 584, 457, 61), frame(98, 1113, 307, 95)] },
  series: series
};

const chart = echarts.init(document.getElementById('chart'), null, { renderer: 'canvas' });
chart.setOption(option);
</script>
</body>
</html>
